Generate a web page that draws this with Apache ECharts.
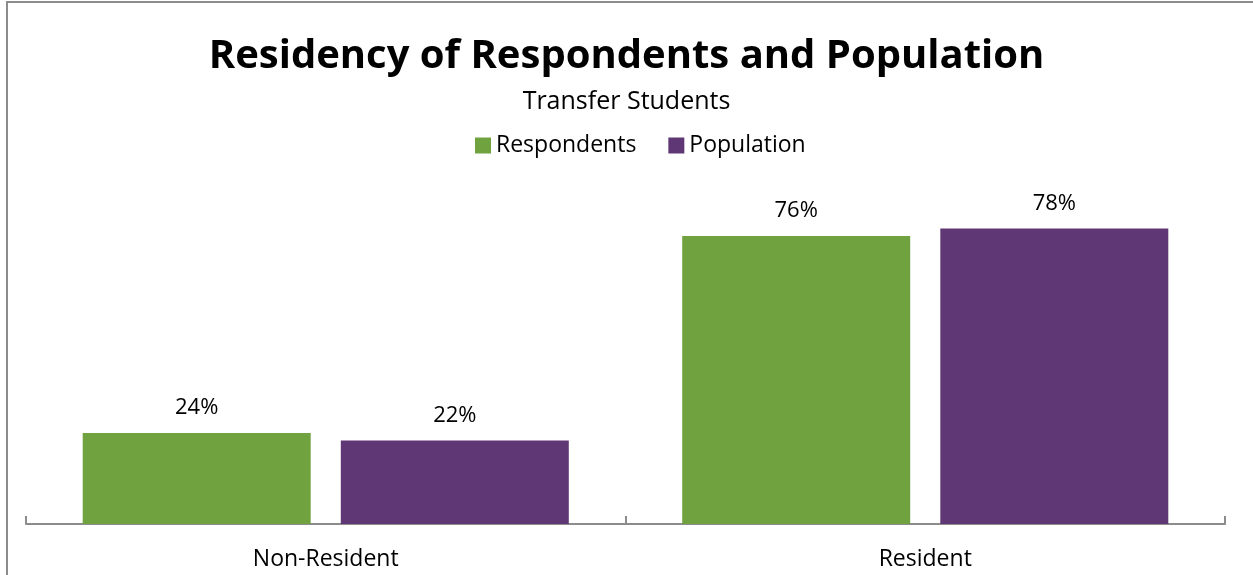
<!DOCTYPE html>
<html>
<head>
<meta charset="utf-8">
<script src="https://cdn.jsdelivr.net/npm/echarts@6/dist/echarts.min.js"></script>
<style>
  html, body { margin: 0; padding: 0; background: #fff; }
  #chart { width: 1253px; height: 575px; }
</style>
</head>
<body>
<div id="chart"></div>
<script>
// Residency split of transfer-student survey respondents vs. the full population (%)
const categories = ['Non-Resident', 'Resident'];
const respondents = [24, 76];
const population = [22, 78];
const seriesNames = ['Respondents', 'Population'];

const FONT = '"Open Sans", "Noto Sans", sans-serif';
const GREEN = '#70A340';
const PURPLE = '#603775';

const chart = echarts.init(document.getElementById('chart'), null, { renderer: 'canvas' });

const valueLabel = {
  show: true,
  position: 'top',
  distance: 14,
  formatter: p => p.value + '%',
  fontFamily: FONT,
  fontSize: 22,
  color: '#000'
};

chart.setOption({
  animation: false,
  backgroundColor: '#fff',
  graphic: [{
    type: 'rect',
    shape: { x: 7, y: 2, width: 1300, height: 700 },
    style: { fill: 'none', stroke: '#8c8c8c', lineWidth: 2 },
    silent: true
  }],
  title: {
    text: 'Residency of Respondents and Population',
    subtext: 'Transfer Students',
    left: 'center',
    top: 32,
    itemGap: 12,
    textStyle: { fontFamily: FONT, fontWeight: 'bold', fontSize: 40, color: '#000' },
    subtextStyle: { fontFamily: FONT, fontSize: 25, color: '#000' }
  },
  legend: {
    data: seriesNames,
    top: 129,
    left: 470,
    icon: 'rect',
    itemWidth: 16,
    itemHeight: 16,
    itemGap: 32,
    textStyle: { fontFamily: FONT, fontSize: 23, color: '#000' }
  },
  grid: { left: 26, right: 28, top: 145, bottom: 51, containLabel: false },
  xAxis: {
    type: 'category',
    data: categories,
    axisLine: { lineStyle: { color: '#8c8c8c', width: 2 } },
    axisTick: { show: true, inside: true, length: 8, lineStyle: { color: '#8c8c8c', width: 2 } },
    axisLabel: { fontFamily: FONT, fontSize: 23, color: '#000', margin: 24 }
  },
  yAxis: {
    type: 'value',
    min: 0,
    max: 100,
    show: false,
    splitLine: { show: false }
  },
  series: [
    {
      name: seriesNames[0],
      type: 'bar',
      data: respondents,
      barWidth: 228,
      barGap: '13.2%',
      itemStyle: { color: GREEN },
      label: valueLabel
    },
    {
      name: seriesNames[1],
      type: 'bar',
      data: population,
      barWidth: 228,
      barGap: '13.2%',
      itemStyle: { color: PURPLE },
      label: valueLabel
    }
  ]
});
</script>
</body>
</html>
